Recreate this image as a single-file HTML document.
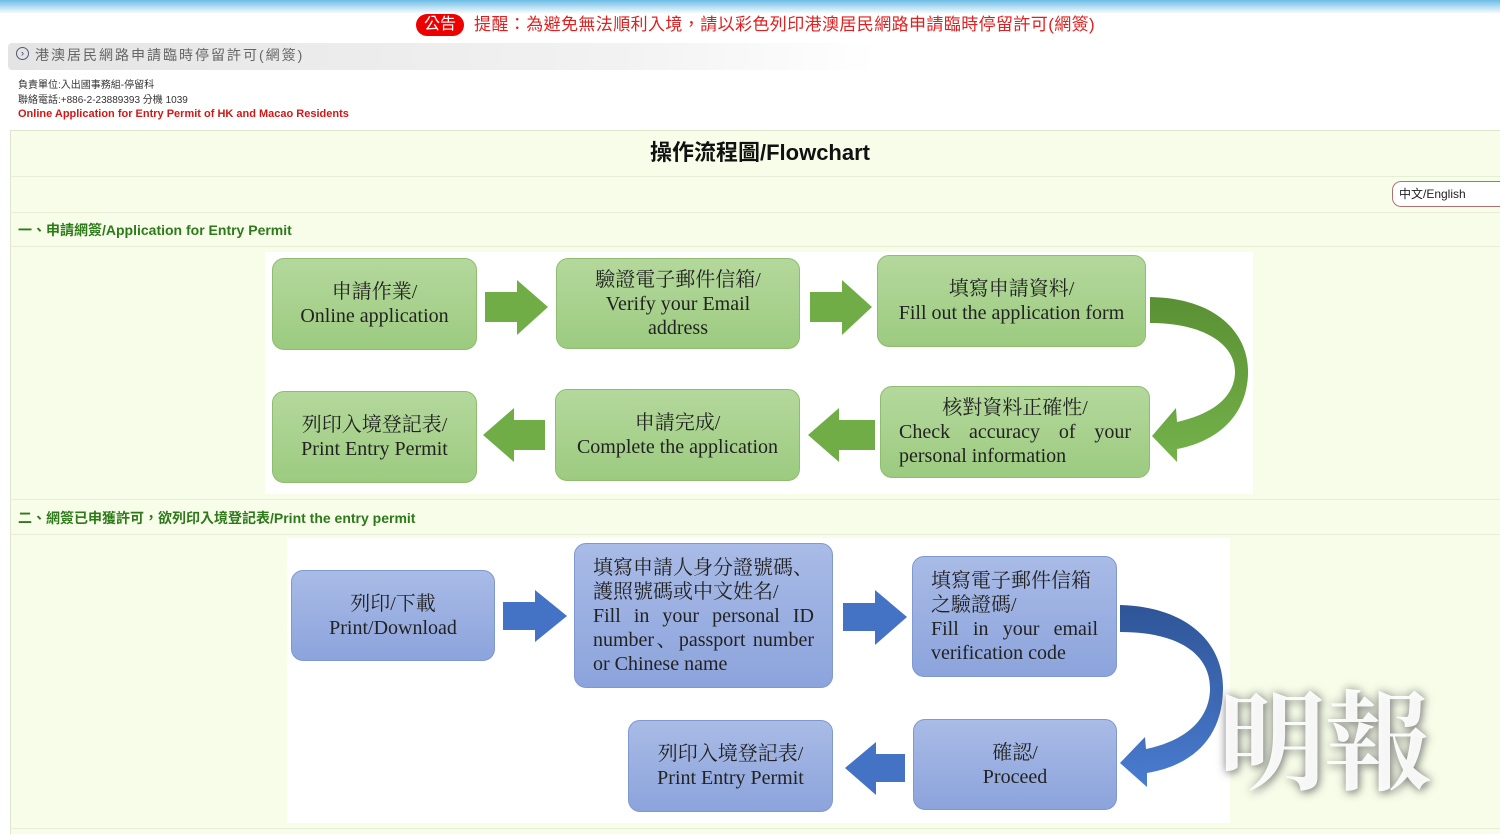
<!DOCTYPE html>
<html><head><meta charset="utf-8">
<style>
*{margin:0;padding:0;box-sizing:border-box}
body{width:1500px;height:834px;overflow:hidden;background:#fff;font-family:"Liberation Sans","Noto Sans CJK TC",sans-serif;position:relative}
.a{position:absolute}
.box{position:absolute;border-radius:12px;display:flex;flex-direction:column;align-items:center;justify-content:center;text-align:center;font-family:"Liberation Serif","Noto Serif CJK SC",serif;font-size:20px;line-height:24px;color:#222}
.g{background:linear-gradient(#b4d89c,#9ccb80);border:1px solid #8fbc70}
.b{background:linear-gradient(#a9bbe6,#8ca4dc);border:1px solid #7f98d0}
.box .l{align-self:stretch;text-align:left;padding:0 18px;white-space:nowrap}
.box .jl{align-self:stretch;text-align:justify;text-align-last:justify;padding:0 18px;white-space:normal}
</style></head><body>
<div class="a" style="left:0;top:0;width:1500px;height:14px;background:linear-gradient(#6cbde6,#fff)"></div>
<div class="a" style="left:416px;top:14px;width:48px;height:22px;background:#e00;border-radius:11px;color:#fff;font-size:16px;line-height:22px;text-align:center">公告</div>
<div class="a" style="left:474px;top:14px;color:#e02020;font-size:17px;line-height:22px;letter-spacing:0.4px">提醒：為避免無法順利入境，請以彩色列印港澳居民網路申請臨時停留許可(網簽)</div>
<div class="a" style="left:8px;top:43px;width:870px;height:27px;background:linear-gradient(90deg,#e4e4e4,#f2f2f2 70%,#fff);border-radius:4px"></div>
<div class="a" style="left:16px;top:47px;width:13px;height:13px;border:1px solid #557;border-radius:50%;font-size:9px;line-height:11px;text-align:center;color:#335">›</div>
<div class="a" style="left:35px;top:45px;color:#666;font-size:14px;letter-spacing:2px;line-height:20px">港澳居民網路申請臨時停留許可(網簽)</div>
<div class="a" style="left:18px;top:78px;color:#333;font-size:10px;line-height:15px">負責單位:入出國事務組-停留科<br>聯絡電話:+886-2-23889393 分機 1039</div>
<div class="a" style="left:18px;top:107px;color:#d01818;font-size:11px;font-weight:bold;line-height:15px">Online Application for Entry Permit of HK and Macao Residents</div>
<div class="a" style="left:10px;top:130px;width:1490px;height:704px;background:#f7fde9;border-top:1px solid #dde6cc;border-left:1px solid #dde6cc"></div>
<div class="a" style="left:10px;top:176px;width:1490px;height:1px;background:#e6eed6"></div>
<div class="a" style="left:10px;top:212px;width:1490px;height:1px;background:#e6eed6"></div>
<div class="a" style="left:10px;top:246px;width:1490px;height:1px;background:#e6eed6"></div>
<div class="a" style="left:10px;top:499px;width:1490px;height:1px;background:#e6eed6"></div>
<div class="a" style="left:10px;top:534px;width:1490px;height:1px;background:#e6eed6"></div>
<div class="a" style="left:10px;top:828px;width:1490px;height:1px;background:#e6eed6"></div>
<div class="a" style="left:0;top:140px;width:1520px;text-align:center;font-size:22px;font-weight:bold;color:#111;line-height:26px">操作流程圖/Flowchart</div>
<div class="a" style="left:1392px;top:181px;width:120px;height:26px;border:1px solid #b07070;border-radius:9px;background:#fff;font-size:12px;line-height:24px;padding-left:6px;color:#222">中文/English</div>
<div class="a" style="left:18px;top:221px;color:#2e7a1a;font-size:14px;line-height:18px;font-weight:bold">一、申請網簽/Application for Entry Permit</div>
<div class="a" style="left:18px;top:509px;color:#2e7a1a;font-size:14px;line-height:18px;font-weight:bold">二、網簽已申獲許可，欲列印入境登記表/Print the entry permit</div>
<div class="a" style="left:265px;top:252px;width:988px;height:242px;background:#fff"></div>
<div class="a" style="left:287px;top:538px;width:943px;height:285px;background:#fff"></div>

<div class="box g" style="left:272px;top:258px;width:205px;height:92px"><div>申請作業/</div><div>Online application</div></div>
<div class="box g" style="left:556px;top:258px;width:244px;height:91px"><div>驗證電子郵件信箱/</div><div>Verify your Email</div><div>address</div></div>
<div class="box g" style="left:877px;top:255px;width:269px;height:92px"><div>填寫申請資料/</div><div>Fill out the application form</div></div>
<div class="box g" style="left:880px;top:386px;width:270px;height:92px"><div>核對資料正確性/</div><div class="jl">Check accuracy of your</div><div class="l">personal information</div></div>
<div class="box g" style="left:555px;top:389px;width:245px;height:92px"><div>申請完成/</div><div>Complete the application</div></div>
<div class="box g" style="left:272px;top:391px;width:205px;height:92px"><div>列印入境登記表/</div><div>Print Entry Permit</div></div>

<div class="box b" style="left:291px;top:570px;width:204px;height:91px"><div>列印/下載</div><div>Print/Download</div></div>
<div class="box b" style="left:574px;top:543px;width:259px;height:145px"><div class="l">填寫申請人身分證號碼、</div><div class="l">護照號碼或中文姓名/</div><div class="jl">Fill in your personal ID</div><div class="jl">number、passport number</div><div class="l">or Chinese name</div></div>
<div class="box b" style="left:912px;top:556px;width:205px;height:121px"><div class="l">填寫電子郵件信箱</div><div class="l">之驗證碼/</div><div class="jl">Fill in your email</div><div class="l">verification code</div></div>
<div class="box b" style="left:913px;top:719px;width:204px;height:91px"><div>確認/</div><div>Proceed</div></div>
<div class="box b" style="left:628px;top:720px;width:205px;height:92px"><div>列印入境登記表/</div><div>Print Entry Permit</div></div>

<svg class="a" style="left:0;top:0" width="1500" height="834">
<defs>
<linearGradient id="gg" x1="0" y1="0" x2="0" y2="1"><stop offset="0" stop-color="#5a9034"/><stop offset="1" stop-color="#74b24a"/></linearGradient>
<linearGradient id="bg" x1="0" y1="0" x2="0" y2="1"><stop offset="0" stop-color="#2f5597"/><stop offset="1" stop-color="#4a7cd0"/></linearGradient>
</defs>
<g fill="#70ad47">
<polygon points="485,292 517,292 517,280 548,307 517,335 517,322 485,322"/>
<polygon points="810,292 842,292 842,280 872,307 842,335 842,322 810,322"/>
<polygon points="545,420 514,420 514,408 483,435 514,462 514,450 545,450"/>
<polygon points="875,420 839,420 839,408 808,435 839,462 839,450 875,450"/>
</g>
<path fill="url(#gg)" d="M1150,297 C1218,298 1250,335 1248,375 C1246,418 1215,442 1177,449 L1177,462 L1152,436 L1176,408 L1177,422 C1212,414 1234,398 1235,373 C1236,345 1205,323 1150,323 Z"/>
<g fill="#4472c4">
<polygon points="503,602 535,602 535,590 567,616 535,642 535,630 503,630"/>
<polygon points="843,603 875,603 875,590 907,617 875,645 875,631 843,631"/>
<polygon points="905,754 876,754 876,742 845,768 876,795 876,782 905,782"/>
</g>
<path fill="url(#bg)" d="M1120,605 C1190,607 1224,645 1223,690 C1222,740 1190,766 1147,773 L1147,787 L1120,763 L1145,737 L1146,749 C1185,741 1209,720 1210,690 C1211,655 1180,632 1120,632 Z"/>
</svg>
<div class="a" style="left:1218px;top:665px;font-family:'Noto Serif CJK SC',serif;font-size:108px;line-height:140px;color:rgba(255,255,255,0.92);font-weight:bold;letter-spacing:-2px;text-shadow:0 0 10px rgba(90,90,90,0.6),2px 3px 8px rgba(100,100,100,0.5)">明報</div>
</body></html>
